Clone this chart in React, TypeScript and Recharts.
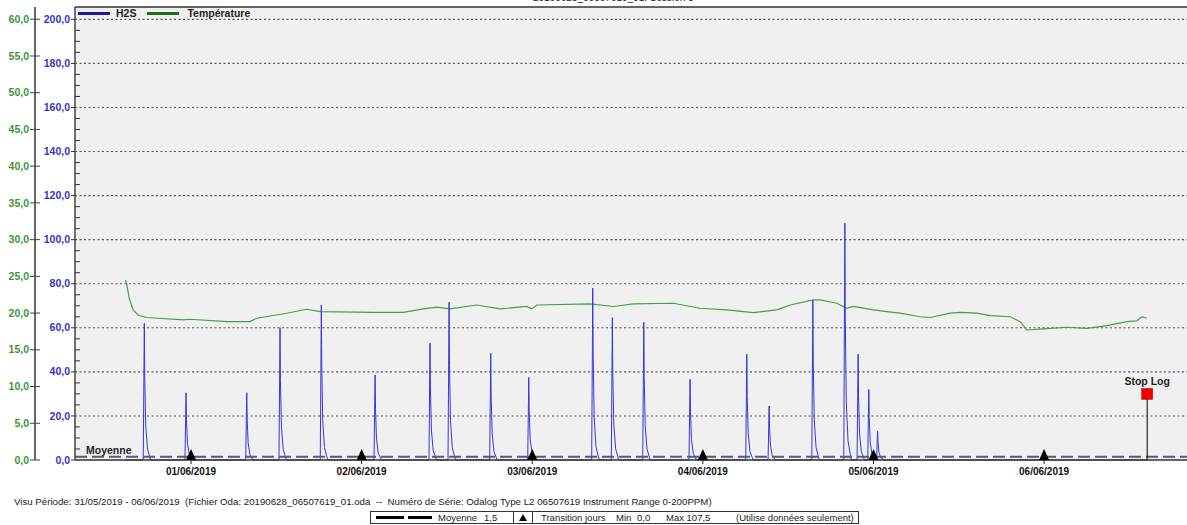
import React from 'react';
import { ComposedChart, Line, XAxis, YAxis, CartesianGrid, ReferenceLine, ReferenceDot } from 'recharts';

// hours counted from 31/05/2019 00:00
const dayTicks = [24, 48, 72, 96, 120, 144];
const dayLabels = ['01/06/2019', '02/06/2019', '03/06/2019', '04/06/2019', '05/06/2019', '06/06/2019'];

const h2sTicks = [0, 5, 10, 15, 20, 25, 30, 35, 40, 45, 50, 55, 60, 65, 70, 75, 80, 85, 90, 95, 100,
    105, 110, 115, 120, 125, 130, 135, 140, 145, 150, 155, 160, 165, 170, 175, 180, 185, 190, 195, 200];
const tempTicks = [0, 5, 10, 15, 20, 25, 30, 35, 40, 45, 50, 55, 60];
const gridValues = [20, 40, 60, 80, 100, 120, 140, 160, 180, 200];

const moyenne = 1.5;
const stopLogHour = 158.5;
const stopLogLevel = 30;

// H2S (ppm) : [heure, valeur]
const h2sPoints: [number, number][] = [
    [14.7, 0],
    [17.28, 0], [17.43, 62], [17.49, 37.2], [17.63, 15.5], [17.88, 5], [18.33, 0],
    [23.15, 0], [23.3, 30.5], [23.36, 18.3], [23.5, 7.6], [23.75, 2.4], [24.2, 0],
    [31.69, 0], [31.84, 30.5], [31.9, 18.3], [32.04, 7.6], [32.29, 2.4], [32.74, 0],
    [36.37, 0], [36.52, 60], [36.58, 36], [36.72, 15], [36.97, 4.8], [37.42, 0],
    [42.18, 0], [42.33, 70.4], [42.39, 42.2], [42.53, 17.6], [42.78, 5.6], [43.23, 0],
    [49.74, 0], [49.89, 38.6], [49.95, 23.2], [50.09, 9.7], [50.34, 3.1], [50.79, 0],
    [57.47, 0], [57.62, 53], [57.68, 31.8], [57.82, 13.3], [58.07, 4.2], [58.52, 0],
    [60.15, 0], [60.3, 71.6], [60.36, 43], [60.5, 17.9], [60.75, 5.7], [61.2, 0],
    [66.01, 0], [66.16, 48.4], [66.22, 29], [66.36, 12.1], [66.61, 3.9], [67.06, 0],
    [71.36, 0], [71.51, 37.5], [71.57, 22.5], [71.71, 9.4], [71.96, 3], [72.41, 0],
    [80.36, 0], [80.51, 78], [80.57, 46.8], [80.71, 19.5], [80.96, 6.2], [81.41, 0],
    [83.12, 0], [83.27, 64.6], [83.33, 38.8], [83.47, 16.2], [83.72, 5.2], [84.17, 0],
    [87.54, 0], [87.69, 62.5], [87.75, 37.5], [87.89, 15.6], [88.14, 5], [88.59, 0],
    [94.05, 0], [94.2, 36.6], [94.26, 22], [94.4, 9.2], [94.65, 2.9], [95.1, 0],
    [102.03, 0], [102.18, 48], [102.24, 28.8], [102.38, 12], [102.63, 3.8], [103.08, 0],
    [105.17, 0], [105.32, 24.5], [105.38, 14.7], [105.52, 6.1], [105.77, 2], [106.22, 0],
    [111.32, 0], [111.47, 72.6], [111.53, 43.6], [111.67, 18.2], [111.92, 5.8], [112.37, 0],
    [115.82, 0], [115.97, 107.5], [116.03, 64.5], [116.17, 26.9], [116.42, 8.6], [116.87, 0],
    [117.69, 0], [117.84, 48], [117.9, 28.8], [118.04, 12], [118.29, 3.8], [118.74, 0],
    [119.19, 0], [119.34, 32], [119.4, 19.2], [119.54, 8], [119.79, 2.6], [120.24, 0],
    [120.43, 0], [120.58, 13], [120.64, 7.8], [120.78, 3.3], [121.03, 1], [121.48, 0],
    [158.5, 0],
];

// Température (°C) : [heure, valeur]
const tempPoints: [number, number][] = [
    [14.76, 24.5], [14.95, 24.0], [15.3, 22.0], [15.88, 20.4], [16.6, 19.7], [17.77, 19.4],
    [22.92, 19.07], [23.86, 19.16], [29.02, 18.84], [32.3, 18.84], [33.24, 19.3], [37.46, 19.98],
    [40.28, 20.52], [42.15, 20.2], [49.65, 20.1], [53.87, 20.1], [56.68, 20.57], [58.57, 20.8],
    [60.44, 20.57], [64.19, 21.1], [67.47, 20.57], [71.23, 20.9], [71.93, 20.57], [72.64, 21.1],
    [80.13, 21.25], [83.41, 20.9], [86.23, 21.25], [91.85, 21.34], [95.61, 20.66], [99.37, 20.43],
    [103.1, 20.06], [106.4, 20.43], [108.28, 21.1], [111.55, 21.8], [112.5, 21.8], [114.84, 21.34],
    [116.25, 20.66], [117.18, 20.9], [119.99, 20.43], [121.88, 20.2], [123.75, 20.0], [126.56, 19.5],
    [127.97, 19.4], [130.78, 20.0], [132.19, 20.1], [134.54, 20.0], [136.41, 19.66], [139.22, 19.5],
    [140.63, 18.84], [141.57, 17.7], [143.91, 17.84], [147.2, 18.07], [150.01, 17.93], [152.83, 18.3],
    [155.64, 18.84], [157.05, 18.93], [157.75, 19.5], [158.45, 19.3],
];

const h2sData = h2sPoints.map(([h, v]) => ({ h, v }));
const tempData = tempPoints.map(([h, v]) => ({ h, v }));

const fmt = (v: number) => v.toFixed(1).replace('.', ',');
const FONT = '"Liberation Sans", Arial, sans-serif';

function H2sTick({ x, y, payload }: any) {
    const v = payload.value;
    const major = v % 20 === 0;
    return (
        <g>
            {major
                ? <line x1={x - 4} x2={x} y1={y} y2={y} stroke="#333" />
                : <line x1={x} x2={x + 5} y1={y} y2={y} stroke="#333" />}
            {major && (
                <text x={x - 5} y={y} dy={3.6} textAnchor="end" fill="#3535c8" fontSize={10.5} fontWeight="bold" fontFamily={FONT}>
                    {fmt(v)}
                </text>
            )}
        </g>
    );
}

function TempTick({ x, y, payload }: any) {
    return (
        <g>
            <line x1={x - 5} x2={x + 5} y1={y} y2={y} stroke="#444" />
            <text x={x - 6} y={y} dy={3.6} textAnchor="end" fill="#3c963c" fontSize={10.5} fontWeight="bold" fontFamily={FONT}>
                {fmt(payload.value)}
            </text>
        </g>
    );
}

const triangle = (p: any) => (
    <polygon points={`${p.cx - 5},${p.cy} ${p.cx + 5},${p.cy} ${p.cx},${p.cy - 11}`} fill="#000" />
);

const square = (p: any) => (
    <rect x={p.cx - 5.5} y={p.cy - 5.5} width={11} height={11} fill="#ee0000" stroke="#a00" strokeWidth={0.5} />
);

export default function App() {
    return (
        <div style={{ position: 'absolute', left: 0, top: 0, width: 1187, height: 525, overflow: 'hidden', background: '#fff', fontFamily: FONT }}>
            <div style={{ position: 'absolute', top: -8, left: 533, width: 160, textAlign: 'center', fontSize: 10, color: '#222', whiteSpace: 'nowrap' }}>
                20190628_06507619_01: Session 3
            </div>

            <ComposedChart width={1187} height={525} margin={{ top: 7, right: 0, bottom: 35, left: 0 }}>
                <CartesianGrid fill="#f0f0f0" horizontal={false} vertical={false} />
                <XAxis
                    dataKey="h"
                    type="number"
                    domain={[7.68, 164.1]}
                    allowDataOverflow
                    ticks={dayTicks}
                    interval={0}
                    tickFormatter={(h: number) => dayLabels[dayTicks.indexOf(h)] ?? ''}
                    tick={{ fontSize: 10, fontWeight: 'bold', fill: '#111', fontFamily: FONT }}
                    tickSize={4}
                    tickMargin={4}
                    tickLine={{ stroke: '#222' }}
                    axisLine={{ stroke: '#333', strokeWidth: 1.5 }}
                />
                <YAxis
                    yAxisId="h2s"
                    type="number"
                    domain={[0, 205.6]}
                    ticks={h2sTicks}
                    interval={0}
                    width={40}
                    tickSize={0}
                    tickMargin={0}
                    tickLine={false}
                    tick={<H2sTick />}
                    axisLine={{ stroke: '#444', strokeWidth: 1.5 }}
                />
                <YAxis
                    yAxisId="temp"
                    type="number"
                    domain={[0, 61.67]}
                    ticks={tempTicks}
                    interval={0}
                    width={35}
                    tickSize={0}
                    tickMargin={0}
                    tickLine={false}
                    tick={<TempTick />}
                    axisLine={{ stroke: '#666', strokeWidth: 2 }}
                />

                {gridValues.map((g) => (
                    <ReferenceLine key={g} yAxisId="h2s" y={g} stroke="#555" strokeDasharray="2 2.5" strokeWidth={1.1} />
                ))}
                <ReferenceLine yAxisId="h2s" y={205.6} stroke="#333" strokeWidth={1.5} />

                <Line
                    yAxisId="temp"
                    data={tempData}
                    dataKey="v"
                    type="linear"
                    stroke="#44a044"
                    strokeWidth={1.2}
                    dot={false}
                    isAnimationActive={false}
                />
                <Line
                    yAxisId="h2s"
                    data={h2sData}
                    dataKey="v"
                    type="linear"
                    stroke="#3535e0"
                    strokeWidth={1}
                    dot={false}
                    isAnimationActive={false}
                />

                <ReferenceLine
                    yAxisId="h2s"
                    y={moyenne}
                    stroke="#5a5a6e"
                    strokeWidth={2}
                    strokeDasharray="12 5"
                    label={{ value: 'Moyenne', position: 'insideBottomLeft', offset: 3, dx: 8, fill: '#222', fontSize: 10.5, fontWeight: 'bold', fontFamily: FONT }}
                />

                {dayTicks.map((d) => (
                    <ReferenceDot key={d} yAxisId="h2s" x={d} y={0} r={5} shape={triangle} />
                ))}

                <ReferenceLine
                    yAxisId="h2s"
                    segment={[{ x: stopLogHour, y: 0 }, { x: stopLogHour, y: stopLogLevel }]}
                    stroke="#000"
                    strokeWidth={1}
                />
                <ReferenceDot
                    yAxisId="h2s"
                    x={stopLogHour}
                    y={stopLogLevel}
                    r={5.5}
                    shape={square}
                    label={{ value: 'Stop Log', position: 'top', offset: 3, fill: '#222', fontSize: 10.5, fontWeight: 'bold', fontFamily: FONT }}
                />
            </ComposedChart>

            {/* légende du haut */}
            <div style={{ position: 'absolute', top: 7, left: 78, height: 12, display: 'flex', alignItems: 'center', fontSize: 10.5, fontWeight: 'bold', color: '#222', whiteSpace: 'nowrap' }}>
                <span style={{ display: 'inline-block', width: 32, height: 3, background: '#1a1a9a' }} />
                <span style={{ marginLeft: 6 }}>H2S</span>
                <span style={{ display: 'inline-block', width: 32, height: 3, background: '#1f6b1f', marginLeft: 11 }} />
                <span style={{ marginLeft: 8 }}>Température</span>
            </div>

            {/* pied de page */}
            <div style={{ position: 'absolute', top: 496, left: 14, fontSize: 9.7, color: '#222', whiteSpace: 'pre' }}>
                {'Visu Période: 31/05/2019 - 06/06/2019  (Fichier Oda: 20190628_06507619_01.oda  --  Numéro de Série: Odalog Type L2 06507619 Instrument Range 0-200PPM)'}
            </div>
            <div style={{ position: 'absolute', top: 511, left: 370, width: 487, height: 11, border: '1px solid #333', fontSize: 9.5, color: '#222', whiteSpace: 'pre', lineHeight: '11px' }}>
                <span style={{ position: 'absolute', left: 5, top: 4, width: 28, height: 3, background: '#000' }} />
                <span style={{ position: 'absolute', left: 37, top: 4, width: 24, height: 3, background: '#000' }} />
                <span style={{ position: 'absolute', left: 67, top: 0 }}>Moyenne</span>
                <span style={{ position: 'absolute', left: 113, top: 0 }}>1,5</span>
                <span style={{ position: 'absolute', left: 142, top: 0, width: 18, height: 11, borderLeft: '1px solid #333', borderRight: '1px solid #333' }}>
                    <span style={{ position: 'absolute', left: 5, top: 2, width: 0, height: 0, borderLeft: '4px solid transparent', borderRight: '4px solid transparent', borderBottom: '7px solid #000' }} />
                </span>
                <span style={{ position: 'absolute', left: 170, top: 0 }}>Transition jours</span>
                <span style={{ position: 'absolute', left: 245, top: 0 }}>Min</span>
                <span style={{ position: 'absolute', left: 266, top: 0 }}>0,0</span>
                <span style={{ position: 'absolute', left: 295, top: 0 }}>Max 107,5</span>
                <span style={{ position: 'absolute', left: 365, top: 0 }}>(Utilise données seulement)</span>
            </div>
        </div>
    );
}
